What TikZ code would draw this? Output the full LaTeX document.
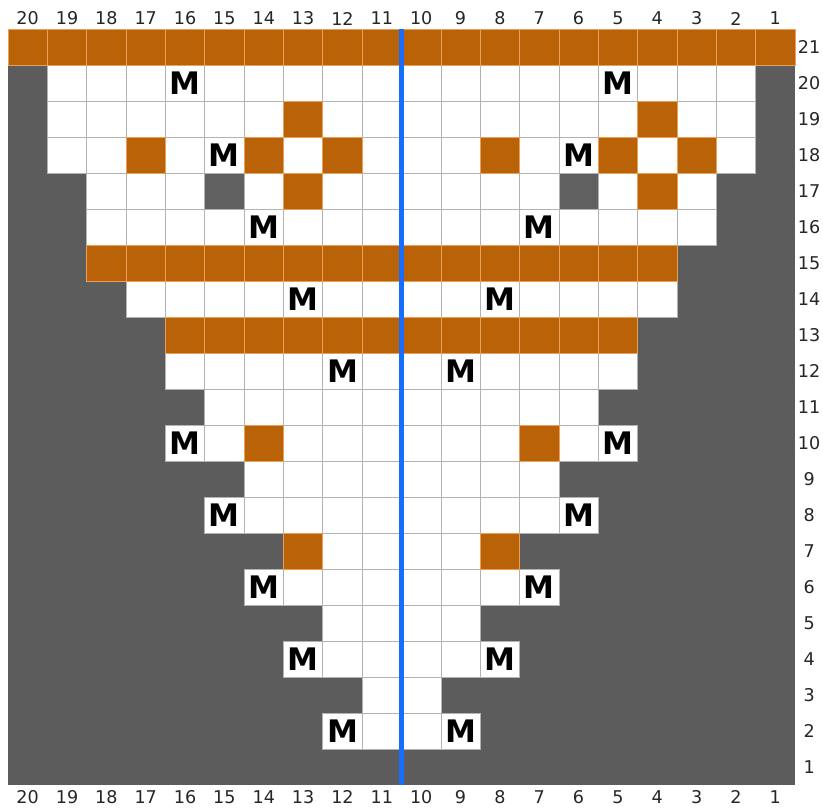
\documentclass[tikz,border=0pt]{standalone}
\usepackage{fontspec}
\setmainfont{DejaVu Sans}
\usepackage{tikz}
\usetikzlibrary{positioning,calc}
\usepackage{xcolor}

\definecolor{bggray}{RGB}{92,92,92}
\definecolor{gridgray}{RGB}{178,178,178}
\definecolor{knitorange}{RGB}{186,98,8}
\definecolor{orangeline}{RGB}{232,160,90}
\definecolor{holegray}{RGB}{96,96,96}
\definecolor{centreblue}{RGB}{22,110,255}

% one run of cells in a row: row, first column, last column, style
\newcommand{\knitrow}[4]{%
  \foreach \c in {#2,...,#3}{\draw[#4] ({20-\c},{#1-1}) rectangle ++(1,1);}}

\tikzset{
  plaincell/.style={fill=white,draw=gridgray,line width=0.6pt},
  orangecell/.style={fill=knitorange,draw=orangeline,line width=0.6pt},
  holecell/.style={fill=holegray,draw=gridgray,line width=0.6pt},
  stitchM/.style={font=\fontsize{26.5}{28}\selectfont\bfseries,inner sep=0pt},
  numlabel/.style={font=\fontsize{15}{17}\selectfont,text=black!85,inner sep=0pt}
}

\begin{document}
\begin{tikzpicture}[x=1.1805cm,y=1.08cm]
\useasboundingbox (-0.2033,-0.6389) rectangle (20.7116,21.8056);
\fill[white] (-0.2033,-0.6389) rectangle (20.7116,21.8056);
\fill[bggray] (0,0) rectangle (20,21);

% white rows of the chart
\knitrow{20}{19}{2}{plaincell}
\knitrow{19}{19}{2}{plaincell}
\knitrow{18}{19}{2}{plaincell}
\knitrow{17}{18}{3}{plaincell}
\knitrow{16}{18}{3}{plaincell}
\knitrow{14}{17}{4}{plaincell}
\knitrow{12}{16}{5}{plaincell}
\knitrow{11}{15}{6}{plaincell}
\knitrow{10}{16}{5}{plaincell}
\knitrow{9}{14}{7}{plaincell}
\knitrow{8}{15}{6}{plaincell}
\knitrow{7}{13}{8}{plaincell}
\knitrow{6}{14}{7}{plaincell}
\knitrow{5}{12}{9}{plaincell}
\knitrow{4}{13}{8}{plaincell}
\knitrow{3}{11}{10}{plaincell}
\knitrow{2}{12}{9}{plaincell}

% orange rows
\knitrow{21}{20}{1}{orangecell}
\knitrow{15}{18}{4}{orangecell}
\knitrow{13}{16}{5}{orangecell}

% single orange stitches
\foreach \r/\c in {19/13,19/4,18/17,18/14,18/12,18/8,18/5,18/3,17/13,17/4,10/14,10/7,7/13,7/8}
  \draw[orangecell] ({20-\c},{\r-1}) rectangle ++(1,1);

% no stitch
\foreach \r/\c in {17/15,17/6}
  \draw[holecell] ({20-\c},{\r-1}) rectangle ++(1,1);

% M stitches
\foreach \r/\c in {20/16,20/5,18/15,18/6,16/14,16/7,14/13,14/8,12/12,12/9,10/16,10/5,8/15,8/6,6/14,6/7,4/13,4/8,2/12,2/9}
  \node[stitchM] (m\r-\c) at ({20.5-\c},{\r-0.5}) {M};

% centre line
\coordinate (ctop) at (10,21);
\coordinate (cbot) at (10,0);
\draw[centreblue,line width=5pt] (ctop) -- (cbot);

% column and row numbers
\foreach \c in {1,...,20}{
  \node[numlabel] (top\c) at ({20.5-\c},21.29) {\c};
  \node[numlabel] (bot\c) at ({20.5-\c},-0.333) {\c};
}
\foreach \r in {1,...,21}
  \node[numlabel] (row\r) at (20.36,{\r-0.5}) {\r};
\end{tikzpicture}
\end{document}
